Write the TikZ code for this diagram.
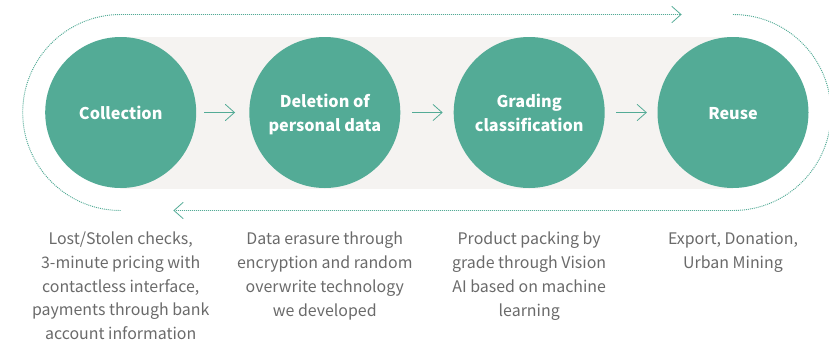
\documentclass[tikz,border=0pt]{standalone}
\usetikzlibrary{calc}
\usepackage{fontspec}
\setmainfont{Noto Sans CJK KR}
\definecolor{teal}{HTML}{53AB96}
\definecolor{band}{HTML}{F5F3F1}
\definecolor{capt}{HTML}{6A6A6A}
\tikzset{
  stage/.style={circle,fill=teal,minimum size=113.25pt,inner sep=0pt,text=white,align=center,
    text height=10.2pt,text depth=0pt,
    font=\fontsize{12.15pt}{18pt}\selectfont\bfseries},
  stagetwo/.style={stage,text height=27.8pt},
  capbox/.style={anchor=north,align=center,text=capt,inner sep=0pt,
    font=\fontsize{11.95pt}{18pt}\selectfont},
  flow/.style={teal,line width=0.6pt},
  loop/.style={teal,line width=0.7pt,dash pattern=on 0.75pt off 0.75pt},
  chev/.style={teal,line width=0.6pt,line cap=round,line join=miter},
}
\begin{document}
\begin{tikzpicture}[x=0.75pt,y=-0.75pt]
\useasboundingbox (0,0) rectangle (829,340);
\fill[band] (120.7,37) rectangle (733,188.5);
\node[stage] (c1) at (120.7,112.5) {Collection};
\node[stagetwo] (c2) at (324.8,112.5) {Deletion of\\personal data};
\node[stagetwo] (c3) at (529.2,112.5) {Grading\\classification};
\node[stage] (c4) at (733,112.5) {Reuse};
\foreach \a/\b/\o in {c1/c2/8,c2/c3/11.5,c3/c4/11.3}{
  \coordinate (s) at ($(\a.east)+(\o,0)$);
  \coordinate (e) at ($(s)+(30,0)$);
  \draw[flow] (s) -- (e);
  \draw[chev] ($(e)+(-9,-8)$) -- (e) -- ($(e)+(-9,8)$);
}
\coordinate (tl) at (120.7,14.5);
\coordinate (tr) at (681,14.5);
\coordinate (bl) at (120.7,210.5);
\coordinate (rt) at (733,14.5);
\coordinate (br) at (174,210.5);
\draw[loop] (bl) arc[start angle=270,end angle=90,radius=73.5pt] -- (tr);
\draw[chev] ($(tr)+(-9,-8)$) -- (tr) -- ($(tr)+(-9,8)$);
\begin{scope}
\clip (0,0) rectangle (829,340);
\draw[loop] (rt) arc[start angle=90,end angle=-90,radius=73.5pt] -- (br);
\end{scope}
\draw[chev] ($(br)+(9,-8)$) -- (br) -- ($(br)+(9,8)$);
\node[capbox,font=\fontsize{11.95pt}{17.85pt}\selectfont] (t1) at (120.7,231.6) {Lost/Stolen checks,\\3-minute pricing with\\contactless interface,\\payments through bank\\account information};
\node[capbox] (t2) at (324.8,231.6) {Data erasure through\\encryption and random\\overwrite technology\\we developed};
\node[capbox] (t3) at (529.2,231.6) {Product packing by\\grade through Vision\\AI based on machine\\learning};
\node[capbox] (t4) at (733,231.6) {Export, Donation,\\Urban Mining};
\end{tikzpicture}
\end{document}
